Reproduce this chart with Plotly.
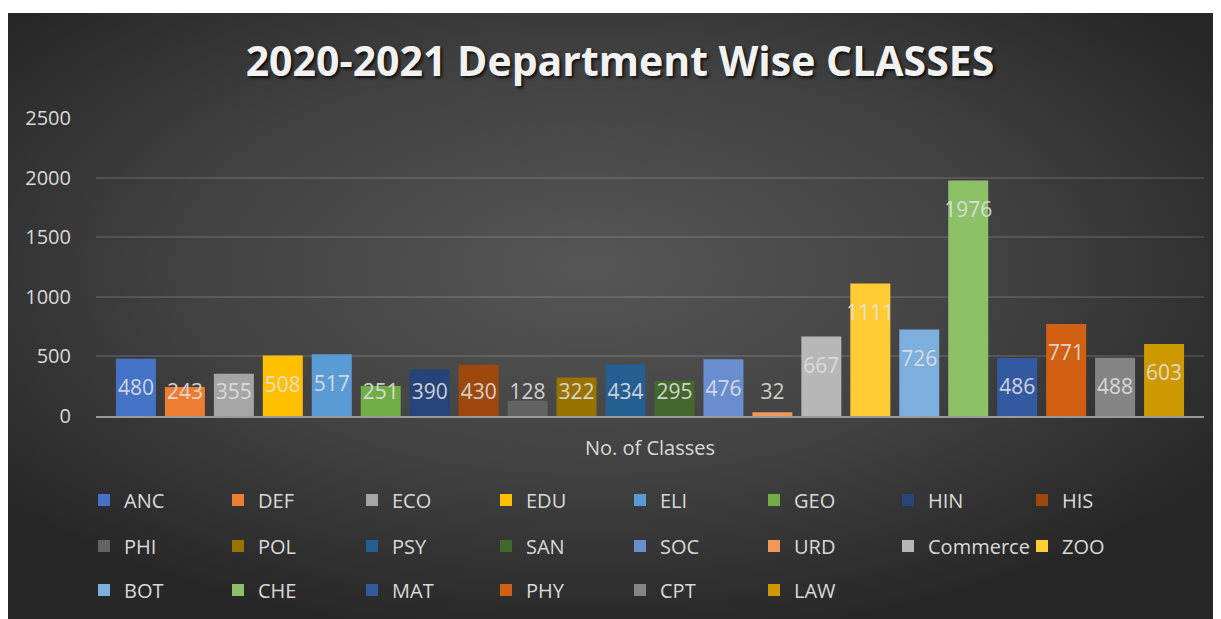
import base64
import plotly.graph_objects as go

departments = ["ANC", "DEF", "ECO", "EDU", "ELI", "GEO", "HIN", "HIS",
               "PHI", "POL", "PSY", "SAN", "SOC", "URD", "Commerce", "ZOO",
               "BOT", "CHE", "MAT", "PHY", "CPT", "LAW"]
classes = [480, 243, 355, 508, 517, 251, 390, 430,
           128, 322, 434, 295, 476, 32, 667, 1111,
           726, 1976, 486, 771, 488, 603]
colors = ["#4472C4", "#ED7D31", "#A5A5A5", "#FFC000", "#5B9BD5", "#70AD47", "#264478", "#9E480E",
          "#636363", "#997300", "#255E91", "#43682B", "#698ED0", "#F1975A", "#B7B7B7", "#FFCD33",
          "#7CAFDD", "#8CC168", "#335AA1", "#D26012", "#848484", "#CC9A00"]
legend_rows = ["legend"] * 8 + ["legend2"] * 8 + ["legend3"] * 6

OFF = 8  # page body margin
W, H = 1221, 619
L = 96 - OFF
T = 118 - OFF
R = W - (1204 - OFF)
B = H - (416 - OFF)
pw, ph = W - L - R, H - T - B
YMAX = 2500
units_per_px = YMAX / ph

FONT = "Open Sans"
TXT = "#d9d9d9"

fig = go.Figure()
for name, val, col, lg in zip(departments, classes, colors, legend_rows):
    fig.add_trace(go.Bar(x=[name], y=[val], name=name, marker=dict(color=col, line=dict(width=0)),
                         legend=lg, hoverinfo="x+y"))

# data labels (inside end, clamped for short bars)
label_y = [max(v - 31 * units_per_px, 22 * units_per_px) for v in classes]
fig.add_trace(go.Scatter(x=departments, y=label_y, text=[str(v) for v in classes], mode="text",
                         textfont=dict(family=FONT, size=21, color="rgba(225,225,225,0.9)"),
                         showlegend=False, hoverinfo="skip", cliponaxis=False))

svg = ("<svg xmlns='http://www.w3.org/2000/svg' width='1213' height='606' preserveAspectRatio='none'>"
       "<defs><radialGradient id='g' cx='0.48' cy='0.42' r='0.62'>"
       "<stop offset='0' stop-color='#565656'/><stop offset='0.55' stop-color='#414141'/>"
       "<stop offset='1' stop-color='#272727'/></radialGradient></defs>"
       "<rect width='1213' height='606' fill='url(#g)'/></svg>")
src = "data:image/svg+xml;base64," + base64.b64encode(svg.encode()).decode()

px2x = lambda p: (p - OFF - L) / pw
py2y = lambda p: (H - B - (p - OFF)) / ph

fig.add_layout_image(dict(source=src, xref="paper", yref="paper", x=px2x(8), y=py2y(13),
                          sizex=(1221 - 8) / pw, sizey=(619 - 13) / ph, sizing="stretch",
                          xanchor="left", yanchor="top", layer="below"))

leg_common = dict(orientation="h", font=dict(family=FONT, size=20, color=TXT),
                  bgcolor="rgba(0,0,0,0)", entrywidth=89, entrywidthmode="pixels",
                  x=px2x(84), xanchor="left", yanchor="middle", itemclick=False)

fig.update_layout(
    width=W, height=H,
    margin=dict(l=L, r=R, t=T, b=B, pad=0),
    paper_bgcolor="white", plot_bgcolor="rgba(0,0,0,0)",
    barmode="overlay", bargap=0.183,
    title=dict(text="2020-2021 Department Wise CLASSES", x=(620 - OFF) / W, xref="container",
               xanchor="center", y=1 - (62 - OFF) / H, yref="container", yanchor="middle",
               font=dict(family=FONT, size=41, color="#f2f2f2", weight="bold",
                         shadow="2px 2px 3px rgba(0,0,0,0.75)")),
    xaxis=dict(range=[-0.816, len(departments) - 1 + 0.816], showticklabels=False, showgrid=False,
               showline=True, linecolor="#9a9a9a", linewidth=2, zeroline=False,
               title=dict(text="No. of Classes", font=dict(family=FONT, size=20, color=TXT), standoff=24),
               fixedrange=True),
    yaxis=dict(range=[0, YMAX], dtick=500, showgrid=True, gridcolor="rgba(255,255,255,0.12)", gridwidth=1.5,
               zeroline=False, tickfont=dict(family=FONT, size=20, color=TXT), ticklabelstandoff=24,
               fixedrange=True),
    legend=dict(**leg_common, y=py2y(500)),
    legend2=dict(**leg_common, y=py2y(546)),
    legend3=dict(**leg_common, y=py2y(590)),
    showlegend=True,
)

fig.write_html("out.html")
